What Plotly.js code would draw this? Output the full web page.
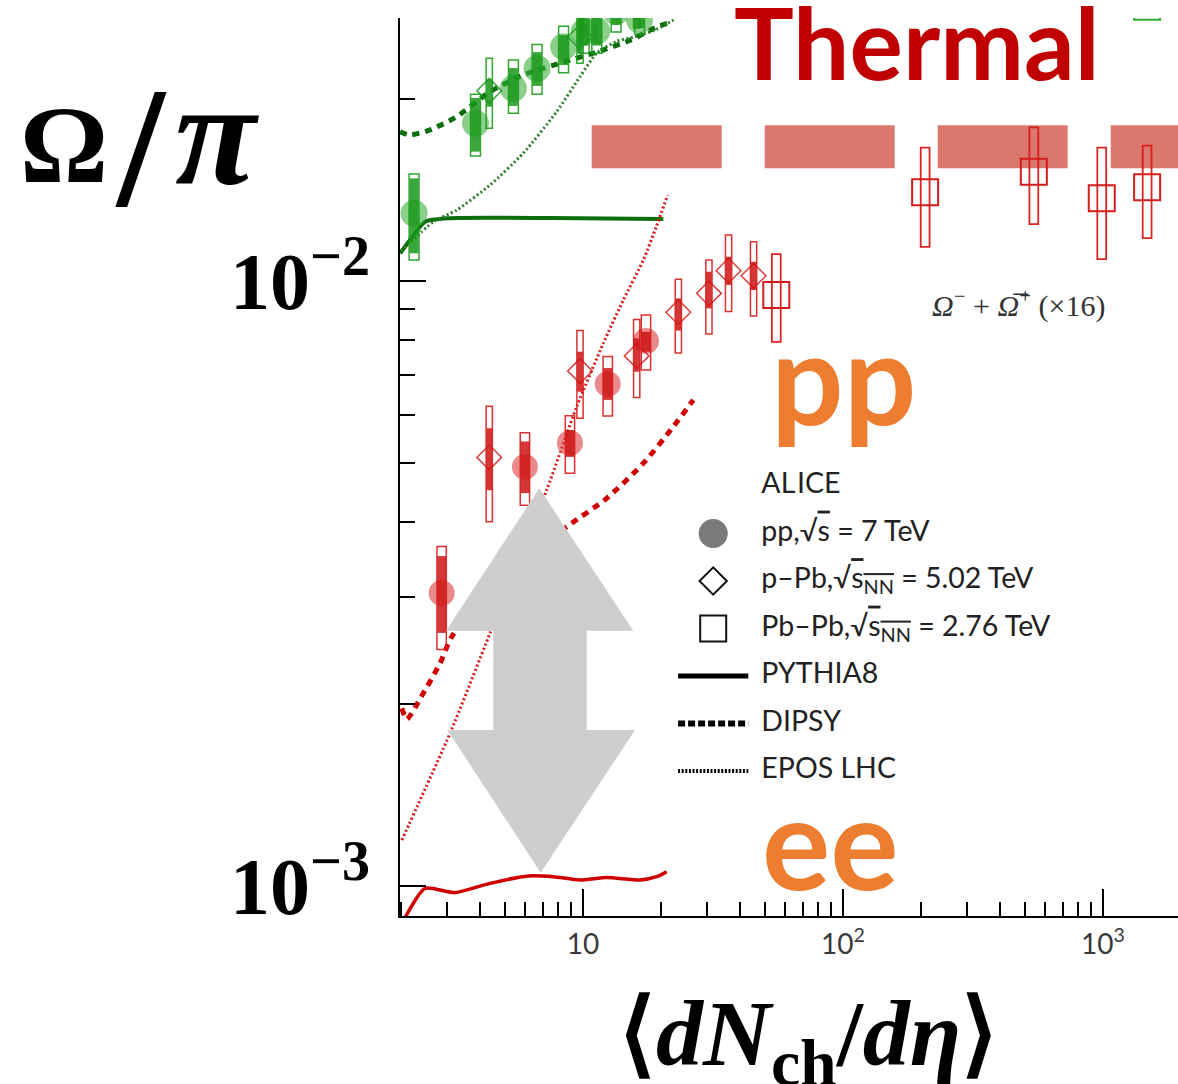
<!DOCTYPE html>
<html>
<head>
<meta charset="utf-8">
<script src="https://cdn.plot.ly/plotly-3.0.1.min.js"></script>
<style>
  html, body { margin: 0; padding: 0; background: #fff; }
  #chart { width: 1178px; height: 1084px; }
</style>
</head>
<body>
<div id="chart"></div>
<script>
// ---------- Omega/pi (x16), red ----------
const ppOmegaX      = [2.86, 5.98, 8.91, 12.45, 17.47];
const ppOmegaY      = [0.00305, 0.00493, 0.00540, 0.00676, 0.00796];
const ppOmegaSysHi  = [0.00364, 0.00561, 0.00599, 0.00750, 0.00879];
const ppOmegaSysLo  = [0.00246, 0.00426, 0.00481, 0.00598, 0.00713];
const ppOmegaUncHi  = [0.00351, 0.00543, 0.00567, 0.00718, 0.00824];
const ppOmegaUncLo  = [0.00262, 0.00446, 0.00512, 0.00636, 0.00764];

const pPbOmegaX     = [4.36, 9.74, 16.09, 23.27, 30.5, 36.3, 45.3];
const pPbOmegaY     = [0.00511, 0.00710, 0.00752, 0.00888, 0.00954, 0.01040, 0.01020];
const pPbOmegaSysHi = [0.00621, 0.00828, 0.00864, 0.01007, 0.01083, 0.01191, 0.01161];
const pPbOmegaSysLo = [0.00400, 0.00593, 0.00642, 0.00760, 0.00817, 0.00890, 0.00875];
const pPbOmegaUncHi = [0.00571, 0.00764, 0.00804, 0.00936, 0.01036, 0.01097, 0.01076];
const pPbOmegaUncLo = [0.00451, 0.00656, 0.00708, 0.00828, 0.00901, 0.00985, 0.00966];

const PbPbOmegaX     = [55.4, 207, 542, 989, 1478];
const PbPbOmegaY     = [0.00948, 0.01402, 0.01516, 0.01370, 0.01429];
const PbPbOmegaSysHi = [0.01108, 0.01661, 0.01795, 0.01661, 0.01674];
const PbPbOmegaSysLo = [0.00793, 0.01139, 0.01242, 0.01087, 0.01177];

// model curves, Omega
const pythiaOmegaX = [2.05, 2.47, 3.22, 4.39, 6.16, 7.69, 9.74, 12.34, 16.57, 19.21, 20.98];
const pythiaOmegaY = [0.00088, 0.000991, 0.000975, 0.00101, 0.001039, 0.001036, 0.001023, 0.001033, 0.001023, 0.001036, 0.001056];
const dipsyOmegaX  = [2.01, 2.10, 2.43, 2.82, 3.13, 5.0, 8.66, 12.34, 17.06, 22.25, 26.56];
const dipsyOmegaY  = [0.001966, 0.001886, 0.002082, 0.002334, 0.002583, 0.0033, 0.003925, 0.004373, 0.004996, 0.005743, 0.006357];
const eposOmegaX   = [2.01, 3.08, 4.39, 7.25, 9.46, 11.97, 14.29, 17.06, 19.14, 21.17];
const eposOmegaY   = [0.001191, 0.001788, 0.002617, 0.004513, 0.006197, 0.007889, 0.009301, 0.01083, 0.0123, 0.01387];

// ---------- Xi/pi, green ----------
const ppXiX      = [2.24, 3.86, 5.40, 6.66, 8.42, 10.1, 11.3, 13.4, 16.5];
const ppXiY      = [0.01294, 0.01823, 0.02082, 0.02246, 0.02439, 0.0258, 0.0259, 0.0279, 0.0270];
const ppXiSysHi  = [0.01503, 0.02035, 0.02318, 0.02461, 0.02638, 0.0290, 0.0285, 0.0300, 0.0295];
const ppXiSysLo  = [0.01083, 0.01609, 0.01893, 0.02035, 0.02209, 0.0238, 0.02379, 0.0258, 0.0256];
const ppXiUncHi  = [0.01478, 0.02007, 0.02249, 0.02390, 0.0255, 0.0280, 0.0278, 0.0292, 0.0284];
const ppXiUncLo  = [0.01111, 0.01636, 0.01947, 0.02101, 0.02275, 0.0245, 0.0245, 0.0265, 0.0262];

const pPbXiX     = [4.36, 9.74, 16.09];
const pPbXiY     = [0.02063, 0.02533, 0.0285];
const pPbXiSysHi = [0.02334, 0.0285, 0.0320];
const pPbXiSysLo = [0.01788, 0.0229, 0.0262];
const pPbXiUncHi = [0.02155, 0.0272, 0.0300];
const pPbXiUncLo = [0.01941, 0.0238, 0.0270];

const PbPbXiX = [1478];
const PbPbXiY = [0.0284];

const pythiaXiX = [1.98, 2.16, 2.47, 3.08, 7.47, 20.37];
const pythiaXiY = [0.01111, 0.01169, 0.01253, 0.0127, 0.01271, 0.01266];
const dipsyXiX  = [1.98, 2.16, 2.58, 3.27, 4.39, 5.89, 8.40, 11.3, 15.2, 19.2, 21.9];
const dipsyXiY  = [0.01765, 0.01743, 0.01777, 0.01869, 0.02055, 0.0219, 0.0230, 0.0239, 0.0250, 0.0263, 0.0268];
const eposXiX   = [2.0, 2.66, 3.27, 4.39, 5.89, 7.92, 9.74, 11.29, 13.48, 15.6, 18.6, 22.3];
const eposXiY   = [0.0112, 0.01253, 0.0131, 0.01441, 0.01626, 0.01905, 0.02176, 0.0238, 0.0249, 0.0253, 0.0259, 0.0270];

// thermal-model expectation for Omega/pi (x16)
const thermalX = [10.8, 2000];
const thermalY = [0.01667, 0.01667];

// axis ticks
const xMajor = [10, 100, 1000];
const xMajorText = ['10', '10<sup>2</sup>', '10<sup>3</sup>'];
const xMinor = [2, 3, 4, 5, 6, 7, 8, 9, 20, 30, 40, 50, 60, 70, 80, 90, 200, 300, 400, 500, 600, 700, 800, 900];
const yMajor = [0.001, 0.01];
const yMajorText = ['10<sup>\u22123</sup>', '10<sup>\u22122</sup>'];
const yMinor = [0.002, 0.003, 0.004, 0.005, 0.006, 0.007, 0.008, 0.009, 0.02];

// legend entries
const legendRows = ['ALICE', 'pp', 'pPb', 'PbPb', 'PYTHIA8', 'DIPSY', 'EPOS LHC'];
const legendText = [
  'AL\u200AICE',
  'pp,\u221A<span style="text-decoration:overline">s</span> = 7 TeV',
  'p\u2013Pb,\u221A<span style="text-decoration:overline">s<sub>NN</sub></span> = 5.02 TeV',
  'Pb\u2013Pb,\u221A<span style="text-decoration:overline">s<sub>NN</sub></span> = 2.76 TeV',
  'PYTHIA8',
  'DIPSY',
  'EPOS LHC'
];

// ---------- colours ----------
const RED = '#d41c1c', RED_LINE = '#d00000';
const GREEN_LINE = '#0b6e0b';

// ---------- page geometry helpers (pixel -> paper) ----------
const W = 1178, H = 1084, ML = 400, MT = 18, MB = 168;
const PW = W - ML, PH = H - MT - MB;
const px = v => (v - ML) / PW;
const py = v => (H - MB - v) / PH;

// uncertainty boxes drawn through the axes' own scales
function boxes(xs, lo, hi, halfDec, lineColor, fill, lw) {
  const f = Math.pow(10, halfDec);
  return xs.map((x, i) => ({
    type: 'rect', xref: 'x', yref: 'y', layer: 'above',
    x0: x / f, x1: x * f, y0: lo[i], y1: hi[i],
    line: { color: lineColor, width: lw },
    fillcolor: fill
  }));
}

const shapes = [].concat(
  boxes(ppOmegaX, ppOmegaUncLo, ppOmegaUncHi, 0.017, 'rgba(0,0,0,0)', 'rgba(205,20,20,0.85)', 0),
  boxes(ppOmegaX, ppOmegaSysLo, ppOmegaSysHi, 0.018, 'rgba(215,25,25,0.9)', 'rgba(0,0,0,0)', 1.5),
  boxes(pPbOmegaX, pPbOmegaUncLo, pPbOmegaUncHi, 0.011, 'rgba(0,0,0,0)', 'rgba(205,20,20,0.85)', 0),
  boxes(pPbOmegaX, pPbOmegaSysLo, pPbOmegaSysHi, 0.012, 'rgba(215,25,25,0.9)', 'rgba(0,0,0,0)', 1.5),
  boxes(PbPbOmegaX, PbPbOmegaSysLo, PbPbOmegaSysHi, 0.017, 'rgba(215,25,25,0.95)', 'rgba(0,0,0,0)', 1.8),
  boxes(ppXiX, ppXiUncLo, ppXiUncHi, 0.017, 'rgba(0,0,0,0)', 'rgba(25,150,25,0.85)', 0),
  boxes(ppXiX, ppXiSysLo, ppXiSysHi, 0.019, 'rgba(25,155,25,0.9)', 'rgba(0,0,0,0)', 1.5),
  boxes(pPbXiX, pPbXiUncLo, pPbXiUncHi, 0.011, 'rgba(0,0,0,0)', 'rgba(25,150,25,0.85)', 0),
  boxes(pPbXiX, pPbXiSysLo, pPbXiSysHi, 0.012, 'rgba(25,155,25,0.9)', 'rgba(0,0,0,0)', 1.5)
);

// grey double-headed arrow between the ee and pp levels
const arrowPts = [[539.3, 488.3], [633.3, 630.7], [586.7, 630.7], [586.7, 730], [635, 730],
                  [540.7, 872.7], [447.3, 730], [493.3, 730], [493.3, 630.7], [446, 630.7]];
shapes.push({
  type: 'path', xref: 'paper', yref: 'paper', layer: 'above',
  path: 'M' + arrowPts.map(p => px(p[0]).toFixed(5) + ',' + py(p[1]).toFixed(5)).join('L') + 'Z',
  fillcolor: '#cfcecf', line: { width: 0 }
});

const traces = [
  // thermal band
  { x: thermalX, y: thermalY, mode: 'lines', line: { color: 'rgba(205,75,60,0.75)', width: 43, dash: '130px,43px' } },
  // model curves
  { x: pythiaXiX, y: pythiaXiY, mode: 'lines', line: { color: GREEN_LINE, width: 4, shape: 'spline', smoothing: 0.6 } },
  { x: dipsyXiX, y: dipsyXiY, mode: 'lines', line: { color: GREEN_LINE, width: 5, dash: '7px,6px', shape: 'spline', smoothing: 0.6 } },
  { x: eposXiX, y: eposXiY, mode: 'lines', line: { color: '#2a7f2a', width: 3, dash: '2px,2.5px', shape: 'spline', smoothing: 0.6 } },
  { x: pythiaOmegaX, y: pythiaOmegaY, mode: 'lines', line: { color: RED_LINE, width: 3.5, shape: 'spline', smoothing: 0.6 } },
  { x: dipsyOmegaX, y: dipsyOmegaY, mode: 'lines', line: { color: RED_LINE, width: 5, dash: '7px,6px', shape: 'spline', smoothing: 0.6 } },
  { x: eposOmegaX, y: eposOmegaY, mode: 'lines', line: { color: '#d81818', width: 3, dash: '2px,2.5px', shape: 'spline', smoothing: 0.6 } },
  // data points
  { x: ppXiX, y: ppXiY, mode: 'markers', marker: { symbol: 'circle', size: 27, color: 'rgba(60,175,60,0.6)' } },
  { x: pPbXiX, y: pPbXiY, mode: 'markers', marker: { symbol: 'diamond-open', size: 19, color: 'rgba(25,150,25,0.85)', line: { width: 1.5 } } },
  { x: PbPbXiX, y: PbPbXiY, mode: 'markers', marker: { symbol: 'square-open', size: 26, color: '#30b030', line: { width: 2 } } },
  { x: ppOmegaX, y: ppOmegaY, mode: 'markers', marker: { symbol: 'circle', size: 26, color: 'rgba(222,60,60,0.6)' } },
  { x: pPbOmegaX, y: pPbOmegaY, mode: 'markers', marker: { symbol: 'diamond-open', size: 19, color: 'rgba(210,30,30,0.85)', line: { width: 1.5 } } },
  { x: PbPbOmegaX, y: PbPbOmegaY, mode: 'markers', marker: { symbol: 'square-open', size: 26, color: RED, line: { width: 2 } } },

  // legend (inset axes x2/y2, one category row per entry)
  { xaxis: 'x2', yaxis: 'y2', x: legendRows.map(() => 0.203), y: legendRows, text: legendText,
    mode: 'text', textposition: 'middle right', textfont: { family: 'Lato', size: 28.5, color: '#222' } },
  { xaxis: 'x2', yaxis: 'y2', x: [0.096], y: [legendRows[1]], mode: 'markers',
    marker: { symbol: 'circle', size: 29, color: '#7a7a7a' } },
  { xaxis: 'x2', yaxis: 'y2', x: [0.096], y: [legendRows[2]], mode: 'markers',
    marker: { symbol: 'diamond-open', size: 21, color: '#111', line: { width: 2 } } },
  { xaxis: 'x2', yaxis: 'y2', x: [0.096], y: [legendRows[3]], mode: 'markers',
    marker: { symbol: 'square-open', size: 26, color: '#111', line: { width: 2 } } },
  { xaxis: 'x2', yaxis: 'y2', x: [0.018, 0.174], y: [legendRows[4], legendRows[4]], mode: 'lines',
    line: { color: '#000', width: 5 } },
  { xaxis: 'x2', yaxis: 'y2', x: [0.018, 0.174], y: [legendRows[5], legendRows[5]], mode: 'lines',
    line: { color: '#000', width: 6, dash: '7px,3px' } },
  { xaxis: 'x2', yaxis: 'y2', x: [0.018, 0.174], y: [legendRows[6], legendRows[6]], mode: 'lines',
    line: { color: '#000', width: 4, dash: '2px,1.6px' } }
];

const serif = 'Liberation Serif';
const annotations = [
  { text: '<b>\u03A9</b>', x: px(63.5), y: py(145), font: { family: serif, size: 110, color: '#000' } },
  { text: '<b>/</b>', x: px(141), y: py(147), font: { family: serif, size: 172, color: '#000' } },
  { text: '<b><i>\u03C0</i></b>', x: px(216.5), y: py(134), font: { family: serif, size: 148, color: '#000' } },
  { text: '<b>\u27E8<i>dN</i><sub>ch</sub>/<i>d\u03B7</i>\u27E9</b>', x: px(808.5), y: py(1040),
    font: { family: serif, size: 94, color: '#000' } },
  { text: '<b>Thermal</b>', x: px(916.7), y: py(41), font: { family: 'Lato', size: 100, color: '#c00000' } },
  { text: '<b>pp</b>', x: px(843), y: py(375), font: { family: 'Lato', size: 128, color: '#ed7d31' } },
  { text: '<b>ee</b>', x: px(830), y: py(840), font: { family: 'Lato', size: 128, color: '#ed7d31' } },
  { text: '<i>\u03A9</i><sup>\u2212</sup> + <i>\u03A9\u0305</i><sup>+</sup> (\u00D716)', x: px(1018.6), y: py(303),
    font: { family: serif, size: 30, color: '#333' } }
].map(a => Object.assign({ xref: 'paper', yref: 'paper', showarrow: false, xanchor: 'center', yanchor: 'middle' }, a));

const layout = {
  width: W, height: H,
  margin: { l: ML, r: 0, t: MT, b: MB, pad: 0 },
  paper_bgcolor: '#fff', plot_bgcolor: 'rgba(0,0,0,0)',
  showlegend: false, hovermode: false,
  xaxis: {
    type: 'log', range: [Math.log10(1.978), Math.log10(1943)],
    showline: true, linecolor: '#000', linewidth: 2, mirror: false,
    showgrid: false, zeroline: false,
    ticks: 'inside', ticklen: 27, tickwidth: 2, tickcolor: '#000',
    tickmode: 'array', tickvals: xMajor, ticktext: xMajorText,
    tickfont: { family: 'Lato', size: 28, color: '#3a3a3a' }, ticklabelstandoff: 2,
    minor: { tickmode: 'array', tickvals: xMinor, ticks: 'inside', ticklen: 14, tickwidth: 2, tickcolor: '#000', showgrid: false }
  },
  yaxis: {
    type: 'log', range: [Math.log10(0.000892), Math.log10(0.02721)],
    showline: true, linecolor: '#000', linewidth: 2, mirror: false,
    showgrid: false, zeroline: false,
    ticks: 'inside', ticklen: 26, tickwidth: 2, tickcolor: '#000',
    tickmode: 'array', tickvals: yMajor, ticktext: yMajorText,
    tickfont: { family: serif, size: 80, color: '#000', weight: 'bold' }, ticklabelstandoff: 12,
    minor: { tickmode: 'array', tickvals: yMinor, ticks: 'inside', ticklen: 15, tickwidth: 2, tickcolor: '#000', showgrid: false }
  },
  xaxis2: { domain: [px(670), px(1120)], range: [0, 1], visible: false, anchor: 'y2', fixedrange: true },
  yaxis2: { domain: [py(794.75), py(462.25)], type: 'category', categoryorder: 'array', categoryarray: legendRows,
            range: [6.5, -0.5], visible: false, anchor: 'x2', fixedrange: true },
  shapes: shapes,
  annotations: annotations
};

Plotly.newPlot('chart', traces, layout, { staticPlot: true, displayModeBar: false });
</script>
</body>
</html>
